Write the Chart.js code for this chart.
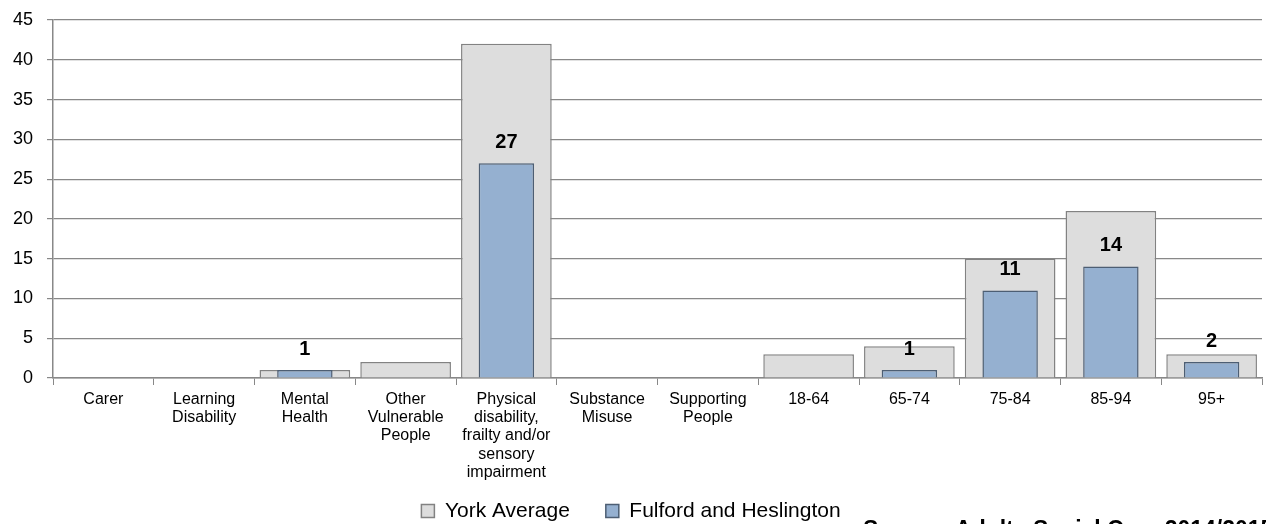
<!DOCTYPE html>
<html>
<head>
<meta charset="utf-8">
<script src="https://cdn.jsdelivr.net/npm/chart.js@4"></script>
<style>
  body { margin: 0; background: #fff; }
  #wrap { width: 1266px; height: 524px; }
</style>
</head>
<body>
<div id="wrap"><canvas id="grafico" width="1266" height="524"></canvas></div>
<script>
// Datos del gráfico
const categorias = [
    "Carer",
    ["Learning", "Disability"],
    ["Mental", "Health"],
    ["Other", "Vulnerable", "People"],
    ["Physical", "disability,", "frailty and/or", "sensory", "impairment"],
    ["Substance", "Misuse"],
    ["Supporting", "People"],
    "18-64",
    "65-74",
    "75-84",
    "85-94",
    "95+"
];
const yorkAverage = [0, 0, 1, 2, 42, 0, 0, 3, 4, 15, 21, 3];
const fulford = [0, 0, 1, 0, 27, 0, 0, 0, 1, 11, 14, 2];
const ticksY = [0, 5, 10, 15, 20, 25, 30, 35, 40, 45];
const fuente = "Source: Adults Social Care 2014/2015";

const FONT = "'Liberation Sans', Arial, sans-serif";

// Etiquetas de valor encima de las barras azules
const etiquetasPlugin = {
    id: "etiquetas",
    afterDatasetsDraw(chart) {
        const ctx = chart.ctx;
        const meta = chart.getDatasetMeta(1);
        ctx.save();
        ctx.font = "bold 20px " + FONT;
        ctx.fillStyle = "#000";
        ctx.textAlign = "center";
        ctx.textBaseline = "middle";
        meta.data.forEach((bar, i) => {
            const v = fulford[i];
            if (v > 0) ctx.fillText(String(v), bar.x, bar.y - 21);
        });
        ctx.restore();
    },
    afterDraw(chart) {
        // Texto de la fuente (cortado por el borde inferior)
        const ctx = chart.ctx;
        ctx.save();
        ctx.font = "bold 23px " + FONT;
        ctx.fillStyle = "#000";
        ctx.textAlign = "left";
        ctx.textBaseline = "top";
        ctx.fillText(fuente, 863, 519);
        ctx.restore();
    }
};

const ctx = document.getElementById("grafico").getContext("2d");
new Chart(ctx, {
    type: "bar",
    data: {
        labels: categorias,
        datasets: [
            {
                label: "York Average",
                data: yorkAverage,
                backgroundColor: "#dddddd",
                borderColor: "#828282",
                borderWidth: 1.5,
                grouped: false,
                barPercentage: 0.9,
                categoryPercentage: 1,
                order: 2,
            },
            {
                label: "Fulford and Heslington",
                data: fulford,
                backgroundColor: "#95b0d0",
                borderColor: "#4d5e73",
                borderWidth: 1.5,
                grouped: false,
                barPercentage: 0.55,
                categoryPercentage: 1,
                order: 1,
            },
        ],
    },
    options: {
        responsive: false,
        animation: false,
        layout: { padding: { top: 20, left: 0, right: 4, bottom: -7.5 } },
        plugins: {
            legend: {
                position: "bottom",
                labels: {
                    font: { family: FONT, size: 21 },
                    color: "#000",
                    boxWidth: 13,
                    boxHeight: 13,
                    padding: 18.5,
                    sort: (a, b) => a.datasetIndex - b.datasetIndex,
                    generateLabels(chart) {
                        const items = Chart.defaults.plugins.legend.labels.generateLabels(chart);
                        // espacio extra entre las dos entradas
                        items.forEach(it => { if (it.datasetIndex === 0) it.text += "   "; });
                        return items;
                    },
                },
            },
            tooltip: { enabled: false },
        },
        scales: {
            x: {
                grid: {
                    display: true,
                    drawOnChartArea: false,
                    drawTicks: true,
                    tickLength: 7,
                    offset: true,
                    color: "#888",
                },
                border: { color: "#888", width: 1.5 },
                ticks: {
                    font: { family: FONT, size: 16, lineHeight: 1.15 },
                    color: "#000",
                    padding: 5,
                    maxRotation: 0,
                    autoSkip: false,
                },
                afterFit(scale) { scale.height = 104; },
            },
            y: {
                min: 0,
                max: 45,
                z: 1,
                afterBuildTicks(scale) { scale.ticks = ticksY.map(v => ({ value: v })); },
                grid: { color: "#888", lineWidth: 1.2, tickLength: 6 },
                border: { color: "#888", width: 1.5 },
                ticks: {
                    font: { family: FONT, size: 18 },
                    color: "#000",
                    padding: 14,
                },
                afterFit(scale) {
                    scale.width = 53;
                    scale.paddingTop = 0;
                    scale.paddingBottom = 0;
                },
            },
        },
    },
    plugins: [etiquetasPlugin],
});
</script>
</body>
</html>
